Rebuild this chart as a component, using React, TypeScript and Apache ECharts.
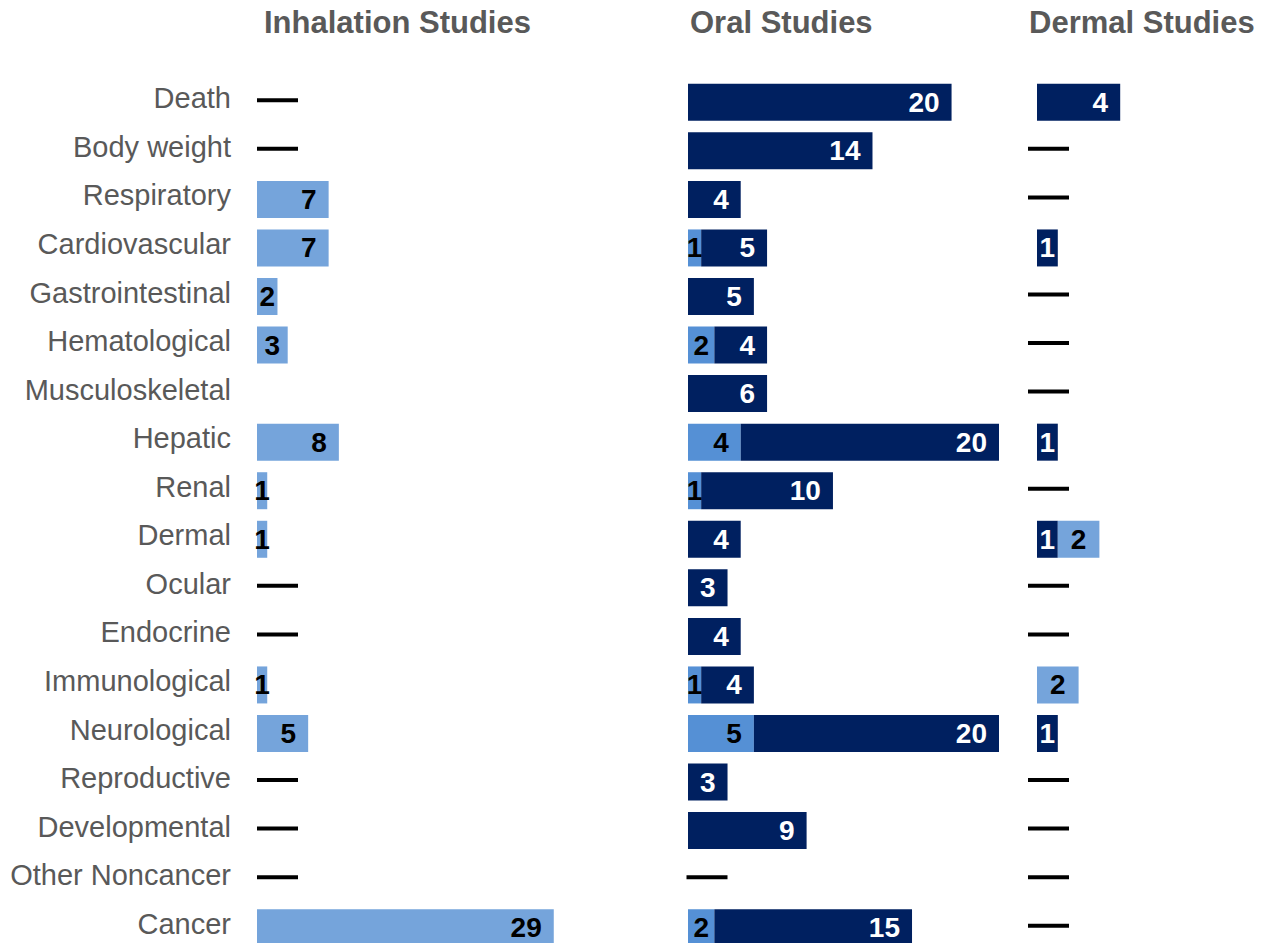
import React, { useEffect, useRef } from "react";
import * as echarts from "echarts";

const categories = [
  "Death", "Body weight", "Respiratory", "Cardiovascular", "Gastrointestinal",
  "Hematological", "Musculoskeletal", "Hepatic", "Renal", "Dermal", "Ocular",
  "Endocrine", "Immunological", "Neurological", "Reproductive", "Developmental",
  "Other Noncancer", "Cancer",
];

const panelTitles = ["Inhalation Studies", "Oral Studies", "Dermal Studies"];

// null = no entry (blank), 0 = drawn as a dash when both series are zero
const inhalationLight = [0, 0, 7, 7, 2, 3, null, 8, 1, 1, 0, 0, 1, 5, 0, 0, 0, 29];
const inhalationDark = [0, 0, 0, 0, 0, 0, null, 0, 0, 0, 0, 0, 0, 0, 0, 0, 0, 0];

const oralLight = [0, 0, 0, 1, 0, 2, 0, 4, 1, 0, 0, 0, 1, 5, 0, 0, 0, 2];
const oralDark = [20, 14, 4, 5, 5, 4, 6, 20, 10, 4, 3, 4, 4, 20, 3, 9, 0, 15];

const dermalLight = [0, 0, 0, 0, 0, 0, 0, 0, 0, 2, 0, 0, 2, 0, 0, 0, 0, 0];
const dermalDark = [4, 0, 0, 1, 0, 0, 0, 1, 0, 1, 0, 0, 0, 1, 0, 0, 0, 0];

const DARK = "#002060";
const FONT = "'Liberation Sans', Arial, sans-serif";

export default function App() {
  const ref = useRef<HTMLDivElement>(null);

  useEffect(() => {
    if (!ref.current) return;
    const chart = echarts.init(ref.current, null, { renderer: "svg" });

    const gridTop = 78;
    const gridHeight = 874;
    const panels = [
      { left: 257, width: 307, max: 30, light: inhalationLight, dark: inhalationDark, lightColor: "#75A4DB", darkFirst: false, dashOffset: 20.5, titleLeft: 264 },
      { left: 688, width: 311, max: 23.6, light: oralLight, dark: oralDark, lightColor: "#5590D5", darkFirst: false, dashOffset: 19, titleLeft: 690 },
      { left: 1037, width: 208, max: 10, light: dermalLight, dark: dermalDark, lightColor: "#75A4DB", darkFirst: true, dashOffset: 11.5, titleLeft: 1029 },
    ];

    const grids: any[] = [];
    const xAxes: any[] = [];
    const yAxes: any[] = [];
    const series: any[] = [];
    const titles: any[] = [];

    panels.forEach((p, gi) => {
      grids.push({ left: p.left, width: p.width, top: gridTop, height: gridHeight, containLabel: false });
      xAxes.push({ type: "value", gridIndex: gi, min: 0, max: p.max, show: false, splitLine: { show: false } });
      yAxes.push({
        type: "category",
        gridIndex: gi,
        data: categories,
        inverse: true,
        axisLine: { show: false },
        axisTick: { show: false },
        axisLabel: { show: false },
      });
      titles.push({
        text: panelTitles[gi],
        left: p.titleLeft,
        top: 7,
        padding: 0,
        textStyle: { fontSize: 31, fontWeight: "bold", color: "#595959", fontFamily: FONT },
      });

      const pxPerUnit = p.width / p.max;
      const makeData = (vals: (number | null)[], textColor: string) =>
        vals.map((v) => {
          if (v === null || v === 0) return { value: v === null ? null : 0, label: { show: false } };
          const px = Math.min(v, p.max) * pxPerUnit;
          return {
            value: v,
            label: {
              show: true,
              position: px < 45 ? "inside" : "insideRight",
              distance: 12,
              color: textColor,
              fontSize: 28,
              fontWeight: "bold",
              fontFamily: FONT,
            },
          };
        });

      const lightSeries = {
        type: "bar",
        name: "light" + gi,
        xAxisIndex: gi,
        yAxisIndex: gi,
        stack: "s" + gi,
        barWidth: 37,
        itemStyle: { color: p.lightColor },
        data: makeData(p.light, "#000000"),
      };
      const darkSeries = {
        type: "bar",
        name: "dark" + gi,
        xAxisIndex: gi,
        yAxisIndex: gi,
        stack: "s" + gi,
        barWidth: 37,
        itemStyle: { color: DARK },
        data: makeData(p.dark, "#ffffff"),
      };
      if (p.darkFirst) series.push(darkSeries, lightSeries);
      else series.push(lightSeries, darkSeries);

      const dashData: number[][] = [];
      p.light.forEach((v, i) => {
        const d = p.dark[i];
        if (v === 0 && d === 0) dashData.push([0, i]);
      });
      series.push({
        type: "scatter",
        xAxisIndex: gi,
        yAxisIndex: gi,
        clip: false,
        symbol: "rect",
        symbolSize: [41, 4],
        symbolOffset: [p.dashOffset, -2],
        itemStyle: { color: "#000000", opacity: 1 },
        data: dashData,
        z: 5,
      });
    });

    // category label axis (sits a few pixels above the bar rows, as in the original)
    grids.push({ left: 257, width: 1, top: gridTop - 4, height: gridHeight, containLabel: false });
    xAxes.push({ type: "value", gridIndex: 3, min: 0, max: 1, show: false, splitLine: { show: false } });
    yAxes.push({
      type: "category",
      gridIndex: 3,
      data: categories,
      inverse: true,
      axisLine: { show: false },
      axisTick: { show: false },
      splitLine: { show: false },
      axisLabel: { show: true, margin: 26, fontSize: 29, color: "#595959", fontFamily: FONT },
    });

    chart.setOption({
      animation: false,
      backgroundColor: "#ffffff",
      title: titles,
      grid: grids,
      xAxis: xAxes,
      yAxis: yAxes,
      series,
    });

    return () => chart.dispose();
  }, []);

  return (
    <div
      ref={ref}
      style={{ position: "fixed", left: 0, top: 0, width: 1270, height: 960 }}
    />
  );
}
